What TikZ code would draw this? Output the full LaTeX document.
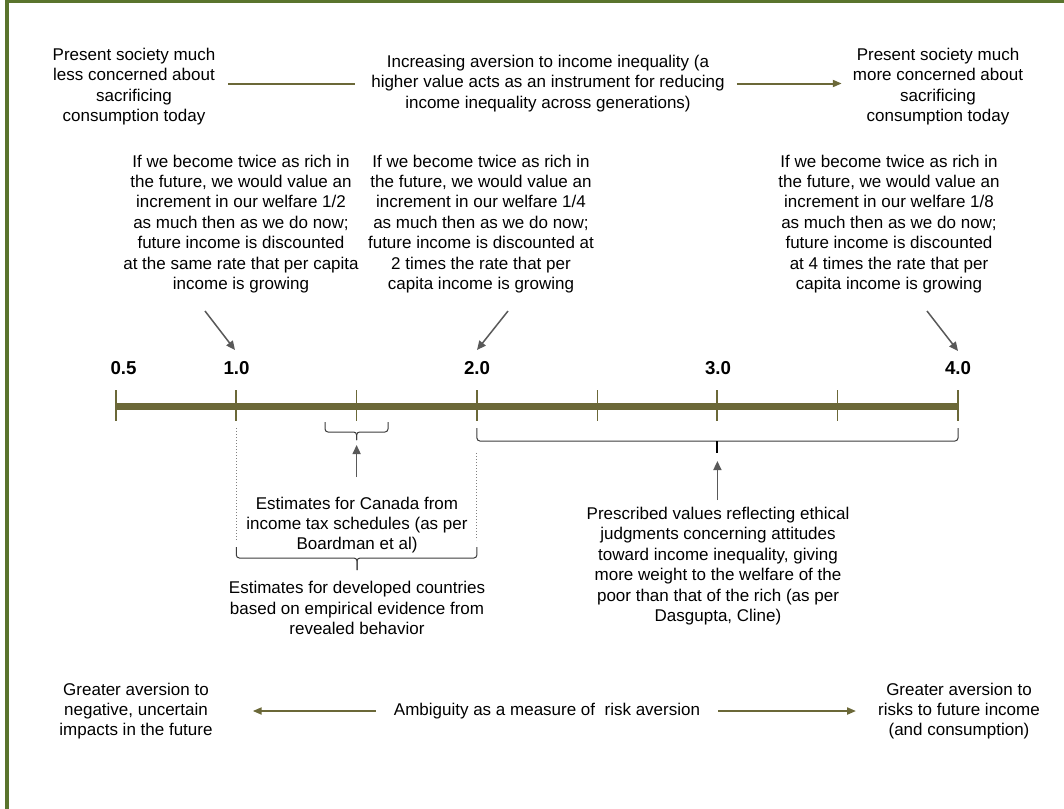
\documentclass[tikz,border=0pt]{standalone}
\usepackage{fontspec}
\setmainfont{Liberation Sans}
\usetikzlibrary{arrows.meta}
\definecolor{framegreen}{RGB}{90,116,45}
\definecolor{olive}{RGB}{107,104,56}
\definecolor{arrowgray}{RGB}{89,89,89}
\definecolor{bracegray}{RGB}{60,60,60}
\begin{document}
\begin{tikzpicture}[x=1pt,y=-1pt,
  txt/.style={font=\fontsize{17}{20.4}\selectfont, align=center, inner sep=0pt, text=black},
  num/.style={font=\fontsize{18.7}{22}\selectfont\bfseries, inner sep=0pt, text=black},
  oliveline/.style={draw=olive, line width=2pt},
  olivearrow/.style={oliveline, -{Triangle[length=9pt,width=7pt]}},
  grayarrow/.style={draw=arrowgray, line width=1.5pt, -{Triangle[length=9pt,width=8pt]}},
  minortick/.style={draw=olive, line width=1.2pt},
  majortick/.style={draw=olive, line width=2pt},
  bracket/.style={draw=bracegray, line width=1pt, rounded corners=3pt},
  bracetip/.style={draw=black, line width=2pt},
  guide/.style={draw=gray, line width=1pt, dotted}]
\useasboundingbox (0,0) rectangle (1064,808);
\fill[white] (0,0) rectangle (1064,808);
% outer frame
\begin{scope}
  \clip (0,0) rectangle (1064,808);
  \draw[framegreen, line width=3.6pt] (7.2,1.6) rectangle (1100,850);
\end{scope}

% top row: aversion to income inequality
\node[txt] (tl) at (134,86.5) {Present society much\\less concerned about\\sacrificing\\consumption today};
\node[txt] (tc) at (548,83.5) {Increasing aversion to income inequality (a\\higher value acts as an instrument for reducing\\income inequality across generations)};
\node[txt] (tr) at (938,86.5) {Present society much\\more concerned about\\sacrificing\\consumption today};
\draw[oliveline, shorten <=13pt, shorten >=16pt] (tl.east |- tc.west) -- (tc.west);
\draw[olivearrow, shorten <=12pt, shorten >=11pt] (tc.east) -- (tr.west |- tc.east);

% explanatory texts above the scale
\node[txt] (e1) at (241,224) {If we become twice as rich in\\the future, we would value an\\increment in our welfare 1/2\\as much then as we do now;\\future income is discounted\\at the same rate that per capita\\income is growing};
\node[txt] (e2) at (481,224) {If we become twice as rich in\\the future, we would value an\\increment in our welfare 1/4\\as much then as we do now;\\future income is discounted at\\2 times the rate that per\\capita income is growing};
\node[txt] (e3) at (889,224) {If we become twice as rich in\\the future, we would value an\\increment in our welfare 1/8\\as much then as we do now;\\future income is discounted\\at 4 times the rate that per\\capita income is growing};

% scale
\foreach \nm/\x in {05/116,10/236.3,15/356.6,20/476.9,25/597.1,30/717.4,35/837.7,40/958}{
  \coordinate (t\nm) at (\x,406);
  \coordinate (t\nm top) at (\x,390);
  \coordinate (t\nm bot) at (\x,421);
}
\draw[olive, line width=7pt] (t05) -- (t40);
\foreach \nm in {05,15,25,35}{ \draw[minortick] (t\nm top) -- (t\nm bot); }
\foreach \nm in {10,20,30,40}{ \draw[majortick] (t\nm top) -- (t\nm bot); }
\node[num] (n05) at (123.5,368.5) {0.5};
\node[num] (n10) at (236.5,368.5) {1.0};
\node[num] (n20) at (477,368.5) {2.0};
\node[num] (n30) at (718,368.5) {3.0};
\node[num] (n40) at (958,368.5) {4.0};

% pointers from the explanations to the values
\coordinate (a1s) at (205,311); \coordinate (a1e) at (235,350);
\coordinate (a2s) at (508,311); \coordinate (a2e) at (477,350);
\coordinate (a3s) at (927,311); \coordinate (a3e) at (958,351);
\draw[grayarrow] (a1s) -- (a1e);
\draw[grayarrow] (a2s) -- (a2e);
\draw[grayarrow] (a3s) -- (a3e);

% Canada range bracket
\coordinate (cbL) at (325,422); \coordinate (cbR) at (388,422);
\coordinate (cbM) at (356.6,432); \coordinate (cbT) at (356.6,440);
\draw[bracket] (cbL) -- (cbL |- cbM) -- (cbM) -- (cbT);
\draw[bracket] (cbR) -- (cbR |- cbM) -- (cbM) -- (cbT);
\node[txt] (canada) at (357,525) {Estimates for Canada from\\income tax schedules (as per\\Boardman et al)};
\coordinate (ca) at (356.6,477);
\coordinate (cae) at (356.6,445);
\draw[grayarrow] (ca) -- (cae);

% prescribed range bracket (2.0 to 4.0)
\coordinate (pbL) at (476.9,428); \coordinate (pbR) at (958,428);
\coordinate (pbM) at (717.4,441); \coordinate (pbT) at (717.4,453);
\draw[bracket] (pbL) -- (pbL |- pbM) -- (pbM);
\draw[bracket] (pbR) -- (pbR |- pbM) -- (pbM);
\draw[bracetip] (pbM) -- (pbT);
\node[txt] (presc) at (718,566) {Prescribed values reflecting ethical\\judgments concerning attitudes\\toward income inequality, giving\\more weight to the welfare of the\\poor than that of the rich (as per\\Dasgupta, Cline)};
\coordinate (pa) at (717.4,500);
\coordinate (pae) at (717.4,461);
\draw[grayarrow] (pa) -- (pae);

% developed countries range (1.0 to 2.0)
\coordinate (g1a) at (236.3,428); \coordinate (g1b) at (236.3,540);
\coordinate (g2a) at (476.9,453); \coordinate (g2b) at (476.9,540);
\draw[guide] (g1a) -- (g1b);
\draw[guide] (g2a) -- (g2b);
\coordinate (dbL) at (236.3,547); \coordinate (dbR) at (476.9,547);
\coordinate (dbM) at (357,558); \coordinate (dbT) at (357,570);
\draw[bracket] (dbL) -- (dbL |- dbM) -- (dbM) -- (dbT);
\draw[bracket] (dbR) -- (dbR |- dbM) -- (dbM) -- (dbT);
\node[txt] (devel) at (357,608) {Estimates for developed countries\\based on empirical evidence from\\revealed behavior};

% bottom row: ambiguity
\node[txt] (bl) at (136,711) {Greater aversion to\\negative, uncertain\\impacts in the future};
\node[txt] (bc) at (547,711) {Ambiguity as a measure of~ risk aversion};
\node[txt] (br) at (959,711) {Greater aversion to\\risks to future income\\(and consumption)};
\draw[olivearrow, shorten <=18pt, shorten >=40pt] (bc.west) -- (bl.east |- bc.west);
\draw[olivearrow, shorten <=18pt, shorten >=22pt] (bc.east) -- (br.west |- bc.east);
\end{tikzpicture}
\end{document}
